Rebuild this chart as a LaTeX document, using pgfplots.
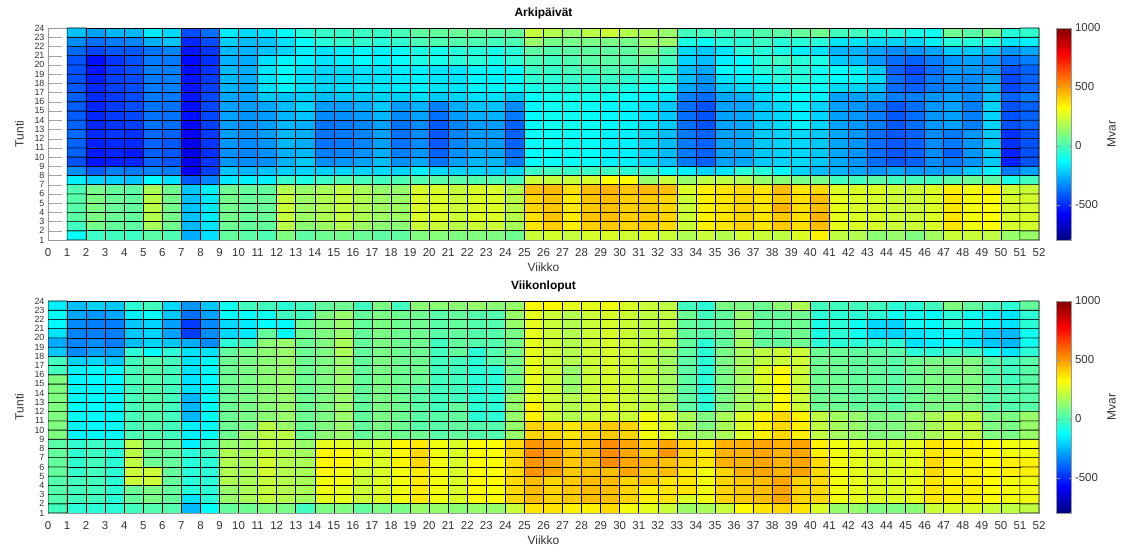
\documentclass[border=0pt]{standalone}
\usepackage{pgfplots}
\pgfplotsset{compat=1.18}
\usepackage{fontspec}
\setmainfont{Liberation Sans}
\begin{document}
\begin{tikzpicture}
\useasboundingbox (0bp,0bp) rectangle (1128bp,553bp);
\pgfplotsset{
  hm/.style={
    anchor=south west, scale only axis, width=991bp, height=212bp,
    xmin=-0.5, xmax=51.5, ymin=0.5, ymax=23.5, enlargelimits=false,
    xtick={-0.5,0.5,...,51.5},
    xticklabels={0,1,2,3,4,5,6,7,8,9,10,11,12,13,14,15,16,17,18,19,20,21,22,23,24,25,26,27,28,29,30,31,32,33,34,35,36,37,38,39,40,41,42,43,44,45,46,47,48,49,50,51,52},
    ytick={0.5,1.5,...,23.5},
    yticklabels={1,2,3,4,5,6,7,8,9,10,11,12,13,14,15,16,17,18,19,20,21,22,23,24},
    tick align=inside, ytick pos=left, xtick pos=bottom,
    xtick style={draw=none}, ytick style={black!35},
    major tick length=14bp,
    axis line style={black!40},
    xticklabel style={font=\fontsize{11.5}{12}\selectfont, text=black!80, yshift=-5bp},
    yticklabel style={font=\fontsize{9}{9}\selectfont, text=black!80},
    label style={font=\fontsize{12}{14}\selectfont, text=black!80},
    xlabel style={yshift=1bp},
    ylabel shift=4bp,
    title style={font=\fontsize{12}{14}\selectfont\bfseries},
    xlabel=Viikko, ylabel=Tunti,
    colormap/jet,
    point meta min=-800, point meta max=1000,
    colorbar,
    colorbar style={
      at={(parent axis.north east)}, anchor=north west, xshift=9bp,
      width=15bp,
      ytick={-500,0,500,1000},
      yticklabel style={font=\fontsize{11.5}{12}\selectfont, text=black!80,
        /pgf/number format/assume math mode=true, /pgf/number format/1000 sep={}},
      ylabel=Mvar, ylabel style={font=\fontsize{12}{14}\selectfont, text=black!80},
      axis line style={black!40}, ytick style={black!40},
      major tick length=3bp, tick align=inside,
    },
  },
  cells/.style={matrix plot*, shader=faceted, faceted color=black, line width=0.6bp,
    point meta=explicit, mesh/ordering=y varies, mesh/rows=23, mesh/cols=#1},
}
\begin{axis}[hm, at={(48bp,313bp)}, title={Arkipäivät}]
\addplot[cells=51] table[row sep=\\, meta=v] {x y v\\
1 1 -110\\1 2 -10\\1 3 30\\1 4 30\\1 5 30\\1 6 10\\1 7 -150\\1 8 -320\\1 9 -430\\1 10 -400\\1 11 -400\\1 12 -390\\1 13 -400\\1 14 -410\\1 15 -410\\1 16 -410\\1 17 -420\\1 18 -430\\1 19 -430\\1 20 -430\\1 21 -390\\1 22 -330\\1 23 -230\\
2 1 -20\\2 2 80\\2 3 90\\2 4 90\\2 5 90\\2 6 80\\2 7 -200\\2 8 -400\\2 9 -540\\2 10 -530\\2 11 -520\\2 12 -500\\2 13 -500\\2 14 -510\\2 15 -510\\2 16 -500\\2 17 -500\\2 18 -520\\2 19 -540\\2 20 -550\\2 21 -450\\2 22 -380\\2 23 -290\\
3 1 -10\\3 2 50\\3 3 60\\3 4 60\\3 5 60\\3 6 50\\3 7 -210\\3 8 -350\\3 9 -520\\3 10 -510\\3 11 -500\\3 12 -480\\3 13 -480\\3 14 -470\\3 15 -470\\3 16 -470\\3 17 -460\\3 18 -460\\3 19 -470\\3 20 -480\\3 21 -420\\3 22 -360\\3 23 -250\\
4 1 -20\\4 2 40\\4 3 50\\4 4 50\\4 5 50\\4 6 40\\4 7 -230\\4 8 -360\\4 9 -510\\4 10 -530\\4 11 -500\\4 12 -490\\4 13 -460\\4 14 -450\\4 15 -440\\4 16 -440\\4 17 -440\\4 18 -440\\4 19 -430\\4 20 -430\\4 21 -420\\4 22 -340\\4 23 -250\\
5 1 30\\5 2 170\\5 3 190\\5 4 200\\5 5 200\\5 6 170\\5 7 -130\\5 8 -340\\5 9 -400\\5 10 -410\\5 11 -400\\5 12 -390\\5 13 -370\\5 14 -370\\5 15 -370\\5 16 -360\\5 17 -360\\5 18 -360\\5 19 -350\\5 20 -360\\5 21 -370\\5 22 -270\\5 23 -160\\
6 1 10\\6 2 70\\6 3 80\\6 4 80\\6 5 80\\6 6 70\\6 7 -180\\6 8 -350\\6 9 -420\\6 10 -420\\6 11 -420\\6 12 -400\\6 13 -380\\6 14 -370\\6 15 -370\\6 16 -360\\6 17 -350\\6 18 -350\\6 19 -350\\6 20 -360\\6 21 -340\\6 22 -230\\6 23 -190\\
7 1 -270\\7 2 -250\\7 3 -230\\7 4 -230\\7 5 -230\\7 6 -220\\7 7 -420\\7 8 -580\\7 9 -610\\7 10 -620\\7 11 -610\\7 12 -580\\7 13 -560\\7 14 -550\\7 15 -550\\7 16 -540\\7 17 -540\\7 18 -540\\7 19 -550\\7 20 -560\\7 21 -540\\7 22 -500\\7 23 -440\\
8 1 -180\\8 2 -170\\8 3 -160\\8 4 -160\\8 5 -160\\8 6 -150\\8 7 -340\\8 8 -460\\8 9 -480\\8 10 -490\\8 11 -480\\8 12 -470\\8 13 -460\\8 14 -450\\8 15 -450\\8 16 -450\\8 17 -460\\8 18 -470\\8 19 -480\\8 20 -490\\8 21 -480\\8 22 -440\\8 23 -380\\
9 1 50\\9 2 70\\9 3 80\\9 4 80\\9 5 80\\9 6 70\\9 7 -160\\9 8 -230\\9 9 -310\\9 10 -320\\9 11 -310\\9 12 -300\\9 13 -300\\9 14 -290\\9 15 -290\\9 16 -280\\9 17 -260\\9 18 -250\\9 19 -250\\9 20 -260\\9 21 -250\\9 22 -210\\9 23 -160\\
10 1 30\\10 2 50\\10 3 60\\10 4 60\\10 5 60\\10 6 50\\10 7 -150\\10 8 -250\\10 9 -330\\10 10 -340\\10 11 -330\\10 12 -320\\10 13 -320\\10 14 -310\\10 15 -300\\10 16 -290\\10 17 -280\\10 18 -270\\10 19 -270\\10 20 -270\\10 21 -260\\10 22 -240\\10 23 -190\\
11 1 10\\11 2 50\\11 3 60\\11 4 60\\11 5 60\\11 6 50\\11 7 -150\\11 8 -230\\11 9 -320\\11 10 -320\\11 11 -310\\11 12 -300\\11 13 -300\\11 14 -300\\11 15 -280\\11 16 -220\\11 17 -180\\11 18 -170\\11 19 -170\\11 20 -180\\11 21 -230\\11 22 -230\\11 23 -180\\
12 1 100\\12 2 200\\12 3 220\\12 4 230\\12 5 220\\12 6 190\\12 7 -30\\12 8 -210\\12 9 -260\\12 10 -260\\12 11 -250\\12 12 -250\\12 13 -250\\12 14 -250\\12 15 -240\\12 16 -230\\12 17 -140\\12 18 -130\\12 19 -130\\12 20 -140\\12 21 -200\\12 22 -180\\12 23 -130\\
13 1 40\\13 2 120\\13 3 150\\13 4 150\\13 5 150\\13 6 140\\13 7 -70\\13 8 -200\\13 9 -220\\13 10 -250\\13 11 -270\\13 12 -270\\13 13 -270\\13 14 -230\\13 15 -200\\13 16 -210\\13 17 -180\\13 18 -180\\13 19 -180\\13 20 -150\\13 21 -150\\13 22 -120\\13 23 -60\\
14 1 70\\14 2 150\\14 3 180\\14 4 180\\14 5 180\\14 6 170\\14 7 -20\\14 8 -210\\14 9 -320\\14 10 -350\\14 11 -370\\14 12 -370\\14 13 -370\\14 14 -330\\14 15 -300\\14 16 -240\\14 17 -200\\14 18 -200\\14 19 -200\\14 20 -170\\14 21 -170\\14 22 -60\\14 23 -30\\
15 1 80\\15 2 190\\15 3 220\\15 4 220\\15 5 220\\15 6 210\\15 7 10\\15 8 -200\\15 9 -310\\15 10 -340\\15 11 -360\\15 12 -360\\15 13 -360\\15 14 -320\\15 15 -290\\15 16 -220\\15 17 -190\\15 18 -190\\15 19 -190\\15 20 -150\\15 21 -150\\15 22 -40\\15 23 -30\\
16 1 60\\16 2 150\\16 3 180\\16 4 180\\16 5 180\\16 6 170\\16 7 0\\16 8 -200\\16 9 -290\\16 10 -320\\16 11 -340\\16 12 -340\\16 13 -340\\16 14 -300\\16 15 -270\\16 16 -220\\16 17 -180\\16 18 -180\\16 19 -180\\16 20 -130\\16 21 -130\\16 22 -40\\16 23 -20\\
17 1 40\\17 2 120\\17 3 150\\17 4 150\\17 5 150\\17 6 140\\17 7 -10\\17 8 -190\\17 9 -240\\17 10 -270\\17 11 -290\\17 12 -290\\17 13 -290\\17 14 -250\\17 15 -220\\17 16 -200\\17 17 -170\\17 18 -170\\17 19 -170\\17 20 -140\\17 21 -140\\17 22 -60\\17 23 -30\\
18 1 40\\18 2 120\\18 3 150\\18 4 150\\18 5 150\\18 6 140\\18 7 10\\18 8 -200\\18 9 -320\\18 10 -350\\18 11 -370\\18 12 -370\\18 13 -370\\18 14 -330\\18 15 -300\\18 16 -210\\18 17 -160\\18 18 -160\\18 19 -160\\18 20 -110\\18 21 -110\\18 22 -40\\18 23 0\\
19 1 100\\19 2 230\\19 3 260\\19 4 260\\19 5 260\\19 6 250\\19 7 20\\19 8 -150\\19 9 -280\\19 10 -310\\19 11 -330\\19 12 -330\\19 13 -330\\19 14 -290\\19 15 -260\\19 16 -180\\19 17 -150\\19 18 -150\\19 19 -150\\19 20 -80\\19 21 -80\\19 22 0\\19 23 40\\
20 1 110\\20 2 230\\20 3 260\\20 4 260\\20 5 260\\20 6 250\\20 7 30\\20 8 -190\\20 9 -370\\20 10 -400\\20 11 -420\\20 12 -420\\20 13 -420\\20 14 -380\\20 15 -350\\20 16 -220\\20 17 -170\\20 18 -170\\20 19 -170\\20 20 -90\\20 21 -90\\20 22 10\\20 23 50\\
21 1 100\\21 2 200\\21 3 230\\21 4 230\\21 5 230\\21 6 220\\21 7 30\\21 8 -200\\21 9 -290\\21 10 -320\\21 11 -340\\21 12 -340\\21 13 -340\\21 14 -300\\21 15 -270\\21 16 -200\\21 17 -170\\21 18 -170\\21 19 -170\\21 20 -60\\21 21 -60\\21 22 20\\21 23 60\\
22 1 100\\22 2 230\\22 3 260\\22 4 260\\22 5 260\\22 6 250\\22 7 20\\22 8 -200\\22 9 -250\\22 10 -280\\22 11 -300\\22 12 -300\\22 13 -300\\22 14 -260\\22 15 -230\\22 16 -180\\22 17 -140\\22 18 -140\\22 19 -140\\22 20 -60\\22 21 -60\\22 22 10\\22 23 60\\
23 1 100\\23 2 230\\23 3 260\\23 4 260\\23 5 260\\23 6 250\\23 7 20\\23 8 -210\\23 9 -250\\23 10 -280\\23 11 -300\\23 12 -300\\23 13 -300\\23 14 -260\\23 15 -230\\23 16 -180\\23 17 -140\\23 18 -140\\23 19 -140\\23 20 -90\\23 21 -90\\23 22 -10\\23 23 50\\
24 1 70\\24 2 170\\24 3 200\\24 4 200\\24 5 200\\24 6 190\\24 7 0\\24 8 -200\\24 9 -350\\24 10 -380\\24 11 -400\\24 12 -400\\24 13 -400\\24 14 -360\\24 15 -330\\24 16 -220\\24 17 -130\\24 18 -130\\24 19 -130\\24 20 -50\\24 21 -50\\24 22 10\\24 23 60\\
25 1 230\\25 2 370\\25 3 380\\25 4 400\\25 5 400\\25 6 440\\25 7 230\\25 8 -20\\25 9 -120\\25 10 -120\\25 11 -120\\25 12 -120\\25 13 -130\\25 14 -130\\25 15 -130\\25 16 -120\\25 17 -80\\25 18 -40\\25 19 -20\\25 20 0\\25 21 30\\25 22 140\\25 23 220\\
26 1 250\\26 2 410\\26 3 430\\26 4 430\\26 5 430\\26 6 450\\26 7 220\\26 8 -10\\26 9 -110\\26 10 -110\\26 11 -110\\26 12 -110\\26 13 -100\\26 14 -100\\26 15 -100\\26 16 -90\\26 17 -70\\26 18 -50\\26 19 -30\\26 20 -10\\26 21 20\\26 22 80\\26 23 190\\
27 1 220\\27 2 350\\27 3 360\\27 4 360\\27 5 360\\27 6 380\\27 7 230\\27 8 -30\\27 9 -110\\27 10 -110\\27 11 -110\\27 12 -110\\27 13 -100\\27 14 -100\\27 15 -100\\27 16 -90\\27 17 -60\\27 18 -30\\27 19 0\\27 20 10\\27 21 30\\27 22 80\\27 23 140\\
28 1 250\\28 2 410\\28 3 430\\28 4 430\\28 5 430\\28 6 440\\28 7 250\\28 8 -20\\28 9 -120\\28 10 -120\\28 11 -120\\28 12 -120\\28 13 -110\\28 14 -110\\28 15 -110\\28 16 -90\\28 17 -60\\28 18 -40\\28 19 0\\28 20 30\\28 21 40\\28 22 90\\28 23 200\\
29 1 260\\29 2 420\\29 3 440\\29 4 440\\29 5 440\\29 6 460\\29 7 320\\29 8 -10\\29 9 -150\\29 10 -150\\29 11 -150\\29 12 -150\\29 13 -130\\29 14 -130\\29 15 -130\\29 16 -100\\29 17 -60\\29 18 -30\\29 19 10\\29 20 30\\29 21 40\\29 22 90\\29 23 230\\
30 1 240\\30 2 400\\30 3 410\\30 4 410\\30 5 410\\30 6 430\\30 7 320\\30 8 -40\\30 9 -150\\30 10 -150\\30 11 -150\\30 12 -150\\30 13 -140\\30 14 -140\\30 15 -140\\30 16 -110\\30 17 -80\\30 18 -40\\30 19 0\\30 20 20\\30 21 40\\30 22 80\\30 23 190\\
31 1 260\\31 2 410\\31 3 420\\31 4 420\\31 5 420\\31 6 450\\31 7 140\\31 8 -50\\31 9 -190\\31 10 -190\\31 11 -190\\31 12 -190\\31 13 -170\\31 14 -170\\31 15 -170\\31 16 -150\\31 17 -100\\31 18 -50\\31 19 -10\\31 20 50\\31 21 90\\31 22 140\\31 23 170\\
32 1 230\\32 2 390\\32 3 400\\32 4 400\\32 5 400\\32 6 440\\32 7 230\\32 8 -120\\32 9 -240\\32 10 -240\\32 11 -240\\32 12 -240\\32 13 -220\\32 14 -220\\32 15 -220\\32 16 -170\\32 17 -90\\32 18 -60\\32 19 -50\\32 20 -10\\32 21 20\\32 22 140\\32 23 140\\
33 1 180\\33 2 230\\33 3 230\\33 4 230\\33 5 230\\33 6 260\\33 7 140\\33 8 -150\\33 9 -360\\33 10 -360\\33 11 -360\\33 12 -360\\33 13 -380\\33 14 -380\\33 15 -380\\33 16 -350\\33 17 -280\\33 18 -240\\33 19 -240\\33 20 -200\\33 21 -190\\33 22 -80\\33 23 -10\\
34 1 230\\34 2 350\\34 3 350\\34 4 350\\34 5 350\\34 6 350\\34 7 210\\34 8 -200\\34 9 -400\\34 10 -400\\34 11 -400\\34 12 -400\\34 13 -430\\34 14 -430\\34 15 -430\\34 16 -380\\34 17 -330\\34 18 -310\\34 19 -280\\34 20 -240\\34 21 -220\\34 22 -120\\34 23 -10\\
35 1 190\\35 2 370\\35 3 370\\35 4 370\\35 5 370\\35 6 370\\35 7 210\\35 8 -170\\35 9 -290\\35 10 -290\\35 11 -290\\35 12 -290\\35 13 -290\\35 14 -290\\35 15 -290\\35 16 -280\\35 17 -220\\35 18 -170\\35 19 -130\\35 20 -150\\35 21 -170\\35 22 -60\\35 23 -10\\
36 1 250\\36 2 400\\36 3 400\\36 4 400\\36 5 400\\36 6 390\\36 7 190\\36 8 -60\\36 9 -280\\36 10 -280\\36 11 -280\\36 12 -280\\36 13 -280\\36 14 -280\\36 15 -280\\36 16 -260\\36 17 -190\\36 18 -150\\36 19 -130\\36 20 -130\\36 21 -60\\36 22 -60\\36 23 -10\\
37 1 230\\37 2 370\\37 3 370\\37 4 370\\37 5 370\\37 6 370\\37 7 140\\37 8 -60\\37 9 -220\\37 10 -220\\37 11 -220\\37 12 -220\\37 13 -220\\37 14 -220\\37 15 -220\\37 16 -190\\37 17 -170\\37 18 -130\\37 19 -60\\37 20 -60\\37 21 -60\\37 22 -20\\37 23 20\\
38 1 210\\38 2 420\\38 3 420\\38 4 460\\38 5 420\\38 6 440\\38 7 120\\38 8 -130\\38 9 -200\\38 10 -200\\38 11 -200\\38 12 -200\\38 13 -190\\38 14 -190\\38 15 -190\\38 16 -150\\38 17 -150\\38 18 -60\\38 19 -60\\38 20 -20\\38 21 -80\\38 22 -60\\38 23 30\\
39 1 260\\39 2 380\\39 3 380\\39 4 380\\39 5 380\\39 6 370\\39 7 90\\39 8 -200\\39 9 -190\\39 10 -190\\39 11 -190\\39 12 -190\\39 13 -150\\39 14 -150\\39 15 -150\\39 16 -130\\39 17 -100\\39 18 -60\\39 19 -60\\39 20 -60\\39 21 -150\\39 22 -60\\39 23 50\\
40 1 350\\40 2 440\\40 3 460\\40 4 440\\40 5 440\\40 6 390\\40 7 90\\40 8 -240\\40 9 -220\\40 10 -220\\40 11 -220\\40 12 -220\\40 13 -200\\40 14 -200\\40 15 -200\\40 16 -150\\40 17 -120\\40 18 -100\\40 19 -100\\40 20 -80\\40 21 -170\\40 22 -60\\40 23 70\\
41 1 210\\41 2 280\\41 3 280\\41 4 280\\41 5 280\\41 6 260\\41 7 -10\\41 8 -260\\41 9 -280\\41 10 -280\\41 11 -280\\41 12 -280\\41 13 -290\\41 14 -290\\41 15 -290\\41 16 -290\\41 17 -190\\41 18 -130\\41 19 -130\\41 20 -220\\41 21 -260\\41 22 -170\\41 23 -10\\
42 1 190\\42 2 260\\42 3 260\\42 4 260\\42 5 260\\42 6 260\\42 7 -10\\42 8 -280\\42 9 -310\\42 10 -310\\42 11 -310\\42 12 -310\\42 13 -310\\42 14 -310\\42 15 -310\\42 16 -290\\42 17 -200\\42 18 -130\\42 19 -150\\42 20 -240\\42 21 -260\\42 22 -170\\42 23 -10\\
43 1 120\\43 2 250\\43 3 250\\43 4 250\\43 5 250\\43 6 260\\43 7 30\\43 8 -310\\43 9 -380\\43 10 -380\\43 11 -380\\43 12 -380\\43 13 -350\\43 14 -350\\43 15 -350\\43 16 -280\\43 17 -240\\43 18 -190\\43 19 -220\\43 20 -310\\43 21 -290\\43 22 -190\\43 23 -60\\
44 1 140\\44 2 230\\44 3 230\\44 4 230\\44 5 230\\44 6 230\\44 7 -10\\44 8 -280\\44 9 -420\\44 10 -420\\44 11 -420\\44 12 -420\\44 13 -420\\44 14 -420\\44 15 -420\\44 16 -350\\44 17 -380\\44 18 -380\\44 19 -400\\44 20 -380\\44 21 -330\\44 22 -200\\44 23 -60\\
45 1 100\\45 2 230\\45 3 230\\45 4 230\\45 5 230\\45 6 230\\45 7 -10\\45 8 -310\\45 9 -400\\45 10 -400\\45 11 -400\\45 12 -400\\45 13 -380\\45 14 -380\\45 15 -380\\45 16 -350\\45 17 -400\\45 18 -420\\45 19 -450\\45 20 -400\\45 21 -310\\45 22 -200\\45 23 -80\\
46 1 160\\46 2 260\\46 3 260\\46 4 260\\46 5 260\\46 6 260\\46 7 -10\\46 8 -290\\46 9 -330\\46 10 -330\\46 11 -330\\46 12 -330\\46 13 -310\\46 14 -310\\46 15 -310\\46 16 -310\\46 17 -360\\46 18 -360\\46 19 -380\\46 20 -350\\46 21 -280\\46 22 -150\\46 23 -100\\
47 1 230\\47 2 370\\47 3 370\\47 4 370\\47 5 370\\47 6 350\\47 7 30\\47 8 -280\\47 9 -360\\47 10 -400\\47 11 -360\\47 12 -360\\47 13 -290\\47 14 -290\\47 15 -290\\47 16 -290\\47 17 -330\\47 18 -310\\47 19 -310\\47 20 -310\\47 21 -220\\47 22 -60\\47 23 70\\
48 1 230\\48 2 300\\48 3 300\\48 4 300\\48 5 300\\48 6 300\\48 7 70\\48 8 -220\\48 9 -310\\48 10 -310\\48 11 -310\\48 12 -310\\48 13 -350\\48 14 -350\\48 15 -350\\48 16 -330\\48 17 -330\\48 18 -330\\48 19 -310\\48 20 -290\\48 21 -220\\48 22 -60\\48 23 30\\
49 1 210\\49 2 320\\49 3 320\\49 4 320\\49 5 320\\49 6 350\\49 7 30\\49 8 -150\\49 9 -220\\49 10 -220\\49 11 -220\\49 12 -220\\49 13 -200\\49 14 -200\\49 15 -200\\49 16 -240\\49 17 -260\\49 18 -280\\49 19 -310\\49 20 -310\\49 21 -240\\49 22 -80\\49 23 70\\
50 1 140\\50 2 250\\50 3 250\\50 4 250\\50 5 250\\50 6 230\\50 7 -80\\50 8 -360\\50 9 -520\\50 10 -520\\50 11 -490\\50 12 -490\\50 13 -430\\50 14 -430\\50 15 -430\\50 16 -400\\50 17 -450\\50 18 -450\\50 19 -430\\50 20 -380\\50 21 -310\\50 22 -170\\50 23 -60\\
51 1 140\\51 2 250\\51 3 250\\51 4 250\\51 5 250\\51 6 230\\51 7 -10\\51 8 -290\\51 9 -430\\51 10 -430\\51 11 -430\\51 12 -430\\51 13 -400\\51 14 -400\\51 15 -400\\51 16 -360\\51 17 -400\\51 18 -400\\51 19 -400\\51 20 -350\\51 21 -280\\51 22 -150\\51 23 -40\\
};
\end{axis}
\begin{axis}[hm, at={(48bp,40bp)}, title={Viikonloput}]
\addplot[cells=52] table[row sep=\\, meta=v] {x y v\\
0 1 -10\\0 2 20\\0 3 20\\0 4 20\\0 5 50\\0 6 50\\0 7 50\\0 8 30\\0 9 100\\0 10 100\\0 11 100\\0 12 100\\0 13 100\\0 14 100\\0 15 100\\0 16 -10\\0 17 -10\\0 18 -220\\0 19 -270\\0 20 -170\\0 21 -130\\0 22 -120\\0 23 -150\\
1 1 -50\\1 2 -10\\1 3 -10\\1 4 -10\\1 5 -30\\1 6 -40\\1 7 -40\\1 8 -40\\1 9 -140\\1 10 -140\\1 11 -130\\1 12 -130\\1 13 -130\\1 14 -130\\1 15 -140\\1 16 -150\\1 17 -200\\1 18 -330\\1 19 -340\\1 20 -340\\1 21 -330\\1 22 -280\\1 23 -240\\
2 1 -50\\2 2 -10\\2 3 -10\\2 4 -10\\2 5 -10\\2 6 -10\\2 7 -20\\2 8 -20\\2 9 -130\\2 10 -130\\2 11 -130\\2 12 -130\\2 13 -130\\2 14 -130\\2 15 -130\\2 16 -130\\2 17 -190\\2 18 -290\\2 19 -330\\2 20 -350\\2 21 -350\\2 22 -310\\2 23 -200\\
3 1 -50\\3 2 -50\\3 3 -50\\3 4 -50\\3 5 -50\\3 6 -50\\3 7 -50\\3 8 -50\\3 9 -130\\3 10 -130\\3 11 -130\\3 12 -130\\3 13 -130\\3 14 -130\\3 15 -130\\3 16 -130\\3 17 -220\\3 18 -290\\3 19 -350\\3 20 -350\\3 21 -350\\3 22 -280\\3 23 -220\\
4 1 -10\\4 2 50\\4 3 60\\4 4 230\\4 5 230\\4 6 210\\4 7 200\\4 8 200\\4 9 10\\4 10 0\\4 11 0\\4 12 0\\4 13 0\\4 14 0\\4 15 0\\4 16 0\\4 17 -10\\4 18 -50\\4 19 -240\\4 20 -220\\4 21 -220\\4 22 -150\\4 23 -50\\
5 1 20\\5 2 90\\5 3 90\\5 4 230\\5 5 230\\5 6 70\\5 7 70\\5 8 70\\5 9 20\\5 10 20\\5 11 20\\5 12 20\\5 13 20\\5 14 20\\5 15 20\\5 16 20\\5 17 20\\5 18 -120\\5 19 -200\\5 20 -200\\5 21 -200\\5 22 -120\\5 23 -10\\
6 1 20\\6 2 50\\6 3 50\\6 4 50\\6 5 50\\6 6 50\\6 7 50\\6 8 50\\6 9 -10\\6 10 -10\\6 11 -10\\6 12 -10\\6 13 -10\\6 14 -10\\6 15 -10\\6 16 -10\\6 17 -10\\6 18 -50\\6 19 -220\\6 20 -290\\6 21 -290\\6 22 -220\\6 23 -190\\
7 1 -250\\7 2 -170\\7 3 -60\\7 4 -60\\7 5 -60\\7 6 -60\\7 7 -60\\7 8 -150\\7 9 -150\\7 10 -150\\7 11 -250\\7 12 -250\\7 13 -250\\7 14 -170\\7 15 -170\\7 16 -170\\7 17 -170\\7 18 -170\\7 19 -270\\7 20 -470\\7 21 -470\\7 22 -380\\7 23 -310\\
8 1 -120\\8 2 -50\\8 3 -50\\8 4 -50\\8 5 -50\\8 6 -50\\8 7 -10\\8 8 -10\\8 9 -130\\8 10 -130\\8 11 -130\\8 12 -130\\8 13 -130\\8 14 -130\\8 15 -130\\8 16 -130\\8 17 -130\\8 18 -170\\8 19 -330\\8 20 -330\\8 21 -330\\8 22 -290\\8 23 -220\\
9 1 50\\9 2 140\\9 3 140\\9 4 180\\9 5 180\\9 6 180\\9 7 180\\9 8 140\\9 9 70\\9 10 70\\9 11 70\\9 12 70\\9 13 70\\9 14 70\\9 15 70\\9 16 70\\9 17 70\\9 18 50\\9 19 -50\\9 20 -190\\9 21 -190\\9 22 -120\\9 23 -100\\
10 1 70\\10 2 170\\10 3 170\\10 4 170\\10 5 170\\10 6 170\\10 7 170\\10 8 150\\10 9 150\\10 10 90\\10 11 90\\10 12 90\\10 13 90\\10 14 90\\10 15 90\\10 16 90\\10 17 90\\10 18 90\\10 19 -10\\10 20 -160\\10 21 -160\\10 22 -120\\10 23 -10\\
11 1 100\\11 2 220\\11 3 220\\11 4 220\\11 5 240\\11 6 240\\11 7 220\\11 8 220\\11 9 200\\11 10 200\\11 11 120\\11 12 120\\11 13 120\\11 14 120\\11 15 120\\11 16 120\\11 17 120\\11 18 120\\11 19 120\\11 20 50\\11 21 -130\\11 22 -100\\11 23 -10\\
12 1 90\\12 2 190\\12 3 190\\12 4 190\\12 5 190\\12 6 190\\12 7 190\\12 8 200\\12 9 200\\12 10 140\\12 11 140\\12 12 140\\12 13 140\\12 14 140\\12 15 140\\12 16 140\\12 17 140\\12 18 140\\12 19 140\\12 20 -130\\12 21 -130\\12 22 -10\\12 23 -50\\
13 1 -10\\13 2 160\\13 3 170\\13 4 170\\13 5 170\\13 6 170\\13 7 160\\13 8 140\\13 9 70\\13 10 70\\13 11 70\\13 12 70\\13 13 70\\13 14 70\\13 15 70\\13 16 70\\13 17 70\\13 18 70\\13 19 70\\13 20 70\\13 21 70\\13 22 -10\\13 23 -10\\
14 1 90\\14 2 280\\14 3 300\\14 4 300\\14 5 340\\14 6 340\\14 7 340\\14 8 280\\14 9 120\\14 10 100\\14 11 100\\14 12 100\\14 13 100\\14 14 100\\14 15 100\\14 16 100\\14 17 100\\14 18 100\\14 19 100\\14 20 100\\14 21 100\\14 22 100\\14 23 50\\
15 1 100\\15 2 280\\15 3 280\\15 4 300\\15 5 300\\15 6 340\\15 7 340\\15 8 280\\15 9 140\\15 10 140\\15 11 140\\15 12 140\\15 13 140\\15 14 140\\15 15 140\\15 16 140\\15 17 140\\15 18 170\\15 19 170\\15 20 140\\15 21 140\\15 22 140\\15 23 70\\
16 1 50\\16 2 230\\16 3 230\\16 4 230\\16 5 230\\16 6 280\\16 7 280\\16 8 230\\16 9 50\\16 10 50\\16 11 50\\16 12 50\\16 13 50\\16 14 50\\16 15 50\\16 16 50\\16 17 50\\16 18 50\\16 19 50\\16 20 50\\16 21 50\\16 22 50\\16 23 -10\\
17 1 90\\17 2 260\\17 3 260\\17 4 260\\17 5 260\\17 6 260\\17 7 260\\17 8 260\\17 9 90\\17 10 90\\17 11 90\\17 12 90\\17 13 90\\17 14 90\\17 15 90\\17 16 90\\17 17 90\\17 18 90\\17 19 90\\17 20 90\\17 21 90\\17 22 90\\17 23 90\\
18 1 90\\18 2 300\\18 3 300\\18 4 300\\18 5 300\\18 6 340\\18 7 340\\18 8 340\\18 9 70\\18 10 70\\18 11 70\\18 12 70\\18 13 70\\18 14 70\\18 15 70\\18 16 70\\18 17 70\\18 18 70\\18 19 70\\18 20 70\\18 21 70\\18 22 70\\18 23 -10\\
19 1 140\\19 2 360\\19 3 360\\19 4 360\\19 5 360\\19 6 390\\19 7 390\\19 8 360\\19 9 70\\19 10 30\\19 11 30\\19 12 30\\19 13 30\\19 14 30\\19 15 70\\19 16 70\\19 17 70\\19 18 70\\19 19 70\\19 20 70\\19 21 70\\19 22 70\\19 23 120\\
20 1 140\\20 2 300\\20 3 300\\20 4 300\\20 5 300\\20 6 300\\20 7 300\\20 8 300\\20 9 30\\20 10 30\\20 11 30\\20 12 -10\\20 13 -10\\20 14 -10\\20 15 -10\\20 16 -10\\20 17 -10\\20 18 -10\\20 19 -10\\20 20 30\\20 21 30\\20 22 30\\20 23 120\\
21 1 120\\21 2 260\\21 3 260\\21 4 260\\21 5 260\\21 6 260\\21 7 260\\21 8 260\\21 9 50\\21 10 50\\21 11 50\\21 12 50\\21 13 -10\\21 14 -10\\21 15 -10\\21 16 -10\\21 17 -10\\21 18 50\\21 19 50\\21 20 50\\21 21 50\\21 22 50\\21 23 120\\
22 1 140\\22 2 330\\22 3 330\\22 4 330\\22 5 330\\22 6 330\\22 7 330\\22 8 330\\22 9 20\\22 10 20\\22 11 -50\\22 12 -50\\22 13 -50\\22 14 -50\\22 15 -50\\22 16 -50\\22 17 -50\\22 18 -50\\22 19 20\\22 20 20\\22 21 20\\22 22 20\\22 23 140\\
23 1 140\\23 2 320\\23 3 320\\23 4 320\\23 5 320\\23 6 320\\23 7 320\\23 8 320\\23 9 20\\23 10 20\\23 11 -50\\23 12 -50\\23 13 -50\\23 14 -50\\23 15 -50\\23 16 -50\\23 17 20\\23 18 20\\23 19 20\\23 20 20\\23 21 20\\23 22 20\\23 23 120\\
24 1 230\\24 2 390\\24 3 390\\24 4 390\\24 5 390\\24 6 390\\24 7 390\\24 8 390\\24 9 140\\24 10 140\\24 11 140\\24 12 140\\24 13 140\\24 14 90\\24 15 90\\24 16 90\\24 17 90\\24 18 90\\24 19 90\\24 20 90\\24 21 140\\24 22 140\\24 23 140\\
25 1 370\\25 2 440\\25 3 440\\25 4 440\\25 5 510\\25 6 510\\25 7 530\\25 8 510\\25 9 400\\25 10 400\\25 11 350\\25 12 350\\25 13 280\\25 14 280\\25 15 280\\25 16 280\\25 17 280\\25 18 280\\25 19 280\\25 20 280\\25 21 280\\25 22 280\\25 23 330\\
26 1 370\\26 2 400\\26 3 400\\26 4 400\\26 5 480\\26 6 480\\26 7 480\\26 8 480\\26 9 390\\26 10 390\\26 11 230\\26 12 230\\26 13 230\\26 14 230\\26 15 230\\26 16 230\\26 17 230\\26 18 230\\26 19 230\\26 20 230\\26 21 230\\26 22 230\\26 23 330\\
27 1 350\\27 2 420\\27 3 420\\27 4 420\\27 5 420\\27 6 420\\27 7 420\\27 8 420\\27 9 370\\27 10 370\\27 11 190\\27 12 190\\27 13 190\\27 14 140\\27 15 140\\27 16 140\\27 17 190\\27 18 190\\27 19 190\\27 20 190\\27 21 190\\27 22 190\\27 23 280\\
28 1 350\\28 2 440\\28 3 440\\28 4 440\\28 5 440\\28 6 440\\28 7 440\\28 8 440\\28 9 390\\28 10 390\\28 11 230\\28 12 230\\28 13 230\\28 14 230\\28 15 230\\28 16 230\\28 17 230\\28 18 230\\28 19 230\\28 20 230\\28 21 230\\28 22 230\\28 23 280\\
29 1 390\\29 2 440\\29 3 440\\29 4 440\\29 5 440\\29 6 530\\29 7 530\\29 8 530\\29 9 420\\29 10 420\\29 11 250\\29 12 250\\29 13 250\\29 14 250\\29 15 250\\29 16 250\\29 17 250\\29 18 250\\29 19 250\\29 20 250\\29 21 250\\29 22 250\\29 23 300\\
30 1 300\\30 2 400\\30 3 400\\30 4 400\\30 5 480\\30 6 480\\30 7 480\\30 8 480\\30 9 400\\30 10 400\\30 11 230\\30 12 230\\30 13 230\\30 14 230\\30 15 230\\30 16 230\\30 17 230\\30 18 230\\30 19 230\\30 20 230\\30 21 230\\30 22 230\\30 23 260\\
31 1 280\\31 2 350\\31 3 350\\31 4 420\\31 5 420\\31 6 460\\31 7 420\\31 8 420\\31 9 300\\31 10 300\\31 11 300\\31 12 210\\31 13 210\\31 14 210\\31 15 210\\31 16 210\\31 17 210\\31 18 210\\31 19 210\\31 20 210\\31 21 210\\31 22 210\\31 23 230\\
32 1 230\\32 2 370\\32 3 370\\32 4 370\\32 5 440\\32 6 440\\32 7 510\\32 8 480\\32 9 260\\32 10 260\\32 11 260\\32 12 160\\32 13 160\\32 14 160\\32 15 160\\32 16 160\\32 17 160\\32 18 160\\32 19 210\\32 20 210\\32 21 210\\32 22 210\\32 23 210\\
33 1 150\\33 2 260\\33 3 370\\33 4 370\\33 5 370\\33 6 400\\33 7 400\\33 8 400\\33 9 170\\33 10 170\\33 11 170\\33 12 40\\33 13 40\\33 14 40\\33 15 40\\33 16 40\\33 17 40\\33 18 40\\33 19 50\\33 20 50\\33 21 50\\33 22 70\\33 23 -10\\
34 1 170\\34 2 300\\34 3 300\\34 4 300\\34 5 300\\34 6 370\\34 7 370\\34 8 370\\34 9 140\\34 10 100\\34 11 100\\34 12 -50\\34 13 -50\\34 14 -50\\34 15 -50\\34 16 -50\\34 17 -50\\34 18 -50\\34 19 -50\\34 20 20\\34 21 20\\34 22 -10\\34 23 -50\\
35 1 230\\35 2 400\\35 3 400\\35 4 400\\35 5 400\\35 6 460\\35 7 460\\35 8 460\\35 9 170\\35 10 170\\35 11 170\\35 12 90\\35 13 90\\35 14 90\\35 15 90\\35 16 90\\35 17 90\\35 18 90\\35 19 50\\35 20 50\\35 21 50\\35 22 50\\35 23 90\\
36 1 330\\36 2 420\\36 3 420\\36 4 420\\36 5 460\\36 6 460\\36 7 460\\36 8 460\\36 9 260\\36 10 260\\36 11 260\\36 12 160\\36 13 160\\36 14 160\\36 15 160\\36 16 160\\36 17 160\\36 18 160\\36 19 160\\36 20 140\\36 21 140\\36 22 140\\36 23 90\\
37 1 370\\37 2 440\\37 3 440\\37 4 440\\37 5 480\\37 6 480\\37 7 480\\37 8 480\\37 9 350\\37 10 350\\37 11 350\\37 12 210\\37 13 210\\37 14 240\\37 15 260\\37 16 260\\37 17 210\\37 18 210\\37 19 50\\37 20 50\\37 21 50\\37 22 50\\37 23 70\\
38 1 390\\38 2 480\\38 3 480\\38 4 480\\38 5 460\\38 6 460\\38 7 460\\38 8 460\\38 9 390\\38 10 390\\38 11 390\\38 12 320\\38 13 320\\38 14 320\\38 15 320\\38 16 320\\38 17 230\\38 18 230\\38 19 50\\38 20 50\\38 21 50\\38 22 50\\38 23 120\\
39 1 370\\39 2 400\\39 3 400\\39 4 400\\39 5 480\\39 6 480\\39 7 480\\39 8 480\\39 9 350\\39 10 350\\39 11 350\\39 12 230\\39 13 230\\39 14 230\\39 15 230\\39 16 230\\39 17 230\\39 18 230\\39 19 70\\39 20 70\\39 21 70\\39 22 70\\39 23 180\\
40 1 260\\40 2 390\\40 3 390\\40 4 390\\40 5 390\\40 6 390\\40 7 350\\40 8 350\\40 9 210\\40 10 210\\40 11 210\\40 12 70\\40 13 70\\40 14 70\\40 15 70\\40 16 70\\40 17 70\\40 18 70\\40 19 -50\\40 20 -80\\40 21 -80\\40 22 -50\\40 23 -10\\
41 1 140\\41 2 300\\41 3 300\\41 4 300\\41 5 300\\41 6 300\\41 7 300\\41 8 300\\41 9 160\\41 10 160\\41 11 160\\41 12 70\\41 13 70\\41 14 70\\41 15 70\\41 16 70\\41 17 70\\41 18 70\\41 19 -50\\41 20 -50\\41 21 -50\\41 22 -50\\41 23 -10\\
42 1 140\\42 2 280\\42 3 280\\42 4 280\\42 5 280\\42 6 280\\42 7 280\\42 8 280\\42 9 140\\42 10 140\\42 11 140\\42 12 50\\42 13 50\\42 14 50\\42 15 50\\42 16 50\\42 17 50\\42 18 50\\42 19 -50\\42 20 -100\\42 21 -100\\42 22 -50\\42 23 -10\\
43 1 100\\43 2 260\\43 3 260\\43 4 260\\43 5 260\\43 6 260\\43 7 260\\43 8 260\\43 9 100\\43 10 100\\43 11 100\\43 12 50\\43 13 50\\43 14 50\\43 15 50\\43 16 50\\43 17 50\\43 18 50\\43 19 -50\\43 20 -190\\43 21 -190\\43 22 -50\\43 23 -10\\
44 1 100\\44 2 260\\44 3 260\\44 4 260\\44 5 260\\44 6 260\\44 7 260\\44 8 260\\44 9 100\\44 10 100\\44 11 100\\44 12 30\\44 13 30\\44 14 30\\44 15 30\\44 16 30\\44 17 30\\44 18 30\\44 19 -50\\44 20 -200\\44 21 -200\\44 22 -100\\44 23 -50\\
45 1 120\\45 2 280\\45 3 280\\45 4 280\\45 5 280\\45 6 280\\45 7 280\\45 8 280\\45 9 140\\45 10 140\\45 11 140\\45 12 70\\45 13 70\\45 14 70\\45 15 70\\45 16 70\\45 17 70\\45 18 -50\\45 19 -170\\45 20 -170\\45 21 -100\\45 22 -100\\45 23 -50\\
46 1 230\\46 2 370\\46 3 370\\46 4 370\\46 5 390\\46 6 390\\46 7 370\\46 8 370\\46 9 170\\46 10 170\\46 11 170\\46 12 90\\46 13 90\\46 14 90\\46 15 90\\46 16 90\\46 17 90\\46 18 -50\\46 19 -150\\46 20 -150\\46 21 -120\\46 22 -120\\46 23 -10\\
47 1 260\\47 2 350\\47 3 350\\47 4 350\\47 5 350\\47 6 350\\47 7 350\\47 8 350\\47 9 210\\47 10 210\\47 11 210\\47 12 90\\47 13 90\\47 14 90\\47 15 90\\47 16 90\\47 17 90\\47 18 -10\\47 19 -130\\47 20 -130\\47 21 -50\\47 22 -50\\47 23 100\\
48 1 260\\48 2 350\\48 3 350\\48 4 350\\48 5 350\\48 6 350\\48 7 350\\48 8 350\\48 9 210\\48 10 210\\48 11 210\\48 12 100\\48 13 100\\48 14 100\\48 15 100\\48 16 100\\48 17 100\\48 18 -10\\48 19 -170\\48 20 -170\\48 21 -100\\48 22 -100\\48 23 50\\
49 1 230\\49 2 330\\49 3 330\\49 4 330\\49 5 330\\49 6 330\\49 7 330\\49 8 330\\49 9 100\\49 10 100\\49 11 100\\49 12 30\\49 13 30\\49 14 30\\49 15 30\\49 16 30\\49 17 30\\49 18 -120\\49 19 -220\\49 20 -220\\49 21 -150\\49 22 -150\\49 23 -10\\
50 1 210\\50 2 300\\50 3 300\\50 4 300\\50 5 350\\50 6 350\\50 7 300\\50 8 300\\50 9 90\\50 10 90\\50 11 90\\50 12 20\\50 13 20\\50 14 20\\50 15 -10\\50 16 -10\\50 17 -10\\50 18 -170\\50 19 -250\\50 20 -250\\50 21 -170\\50 22 -170\\50 23 -50\\
51 1 210\\51 2 300\\51 3 300\\51 4 300\\51 5 350\\51 6 350\\51 7 300\\51 8 300\\51 9 140\\51 10 140\\51 11 140\\51 12 30\\51 13 30\\51 14 30\\51 15 30\\51 16 30\\51 17 30\\51 18 -50\\51 19 -100\\51 20 -100\\51 21 -50\\51 22 -50\\51 23 50\\
};
\end{axis}
\end{tikzpicture}
\end{document}
